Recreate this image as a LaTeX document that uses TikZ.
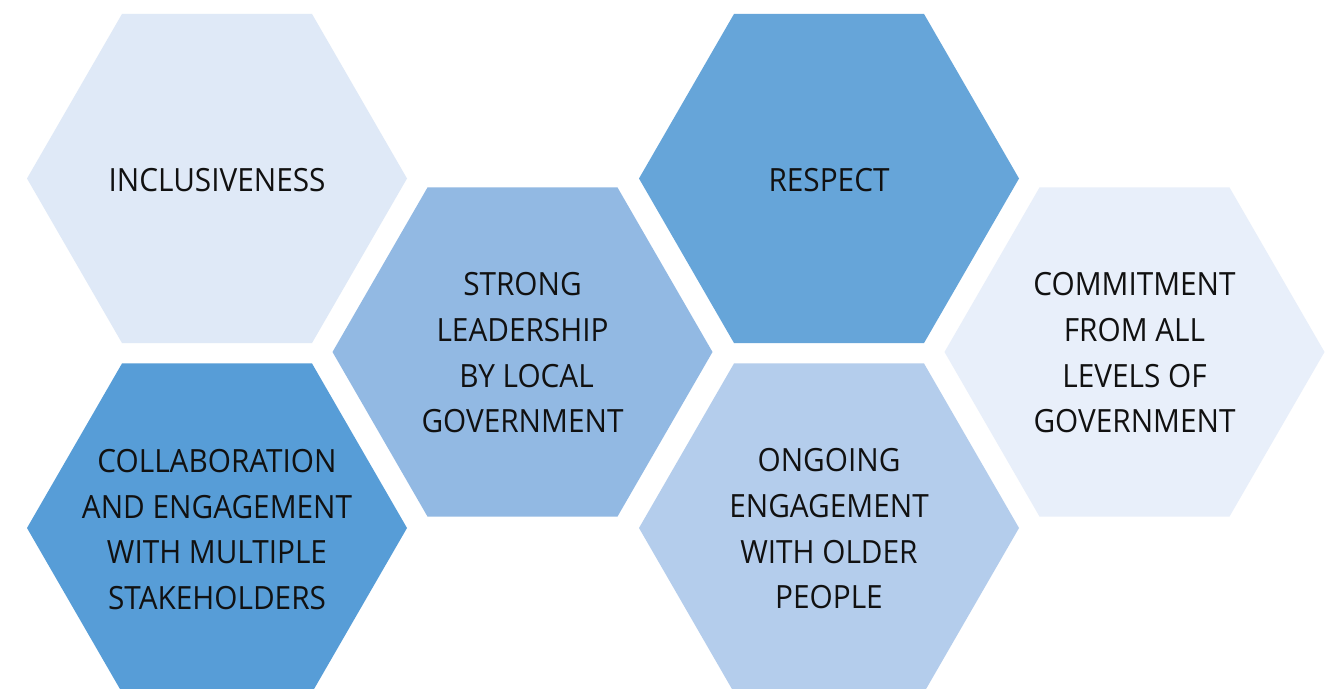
\documentclass[tikz,border=0pt]{standalone}
\usepackage{fontspec}
\setmainfont{Open Sans}[FakeStretch=0.93]
\usetikzlibrary{shapes.geometric}
\definecolor{hexA}{HTML}{DFE9F7}
\definecolor{hexB}{HTML}{66A5D9}
\definecolor{hexC}{HTML}{92B9E3}
\definecolor{hexD}{HTML}{E8EFFA}
\definecolor{hexE}{HTML}{579DD7}
\definecolor{hexF}{HTML}{B4CDEC}
\definecolor{txtcol}{HTML}{111111}
\tikzset{
  hexbox/.style={regular polygon, regular polygon sides=6, minimum size=380pt,
    inner sep=0pt, outer sep=0pt, draw=none},
  hextext/.style={align=center, text=txtcol, inner sep=0pt,
    font=\fontsize{32}{45.7}\selectfont}
}
\begin{document}
\begin{tikzpicture}[x=1pt,y=1pt]
\useasboundingbox[fill=white] (0,0) rectangle (1335,688);
\clip (0,0) rectangle (1335,688);
\node[hexbox, fill=hexA] (h1) at (217,509.5) {};
\node[hexbox, fill=hexB] (h2) at (829,509.5) {};
\node[hexbox, fill=hexC] (h3) at (522.5,336) {};
\node[hexbox, fill=hexD] (h4) at (1134.5,336) {};
\node[hexbox, fill=hexE] (h5) at (217,160) {};
\node[hexbox, fill=hexF] (h6) at (829,160) {};
\node[hextext] (t1) at ([yshift=-1.5pt]h1.center) {INCLUSIVENESS};
\node[hextext] (t2) at ([yshift=-1.5pt]h2.center) {RESPECT};
\node[hextext] (t3) at ([yshift=-1pt]h3.center) {STRONG\\LEADERSHIP\\\hspace*{8pt}BY LOCAL\\GOVERNMENT};
\node[hextext] (t4) at ([yshift=-1pt]h4.center) {COMMITMENT\\FROM ALL\\LEVELS OF\\GOVERNMENT};
\node[hextext] (t5) at ([yshift=-1.5pt]h5.center) {COLLABORATION\\AND ENGAGEMENT\\WITH MULTIPLE\\STAKEHOLDERS};
\node[hextext] (t6) at ([yshift=-1pt]h6.center) {ONGOING\\ENGAGEMENT\\WITH OLDER\\PEOPLE};
\end{tikzpicture}
\end{document}
